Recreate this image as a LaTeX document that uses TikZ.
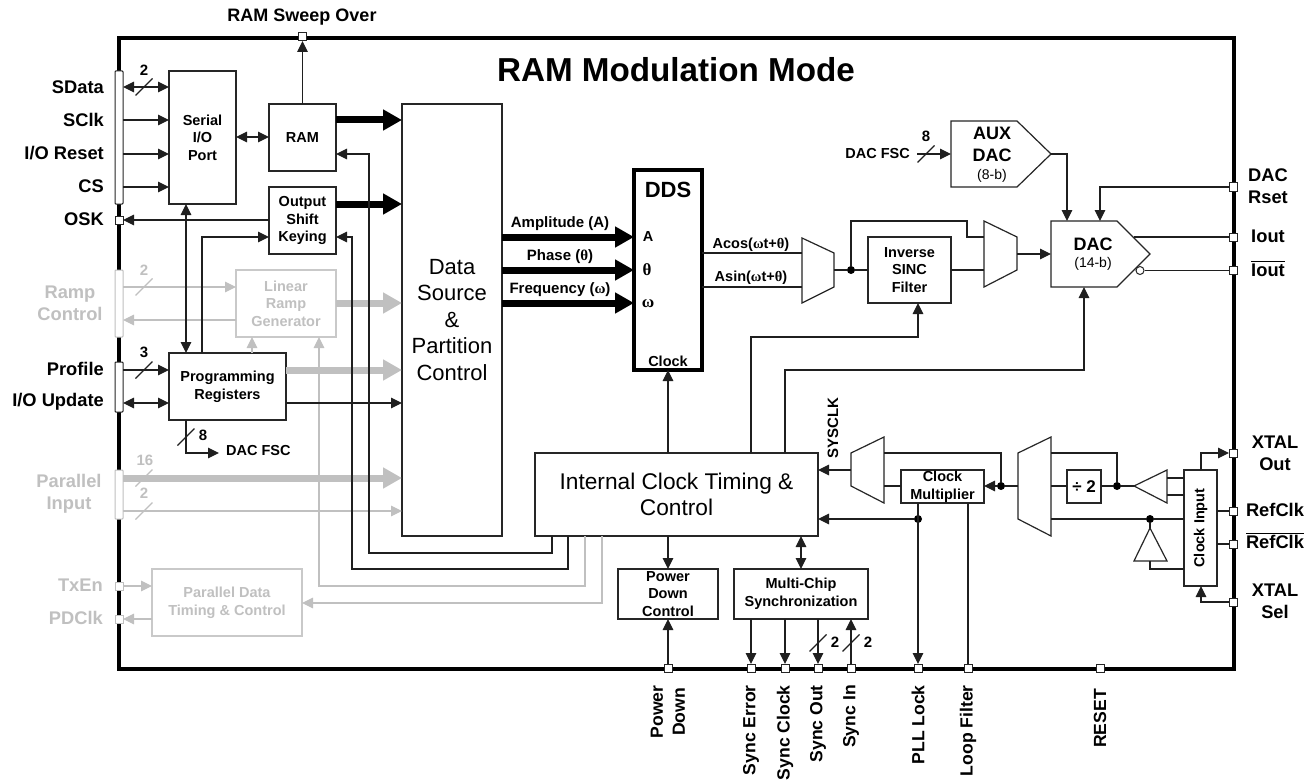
\documentclass[tikz,border=0pt]{standalone}
\usepackage{fontspec}
\setmainfont{Liberation Sans}
\newfontfamily\gr{Liberation Serif}
\usetikzlibrary{arrows.meta}
\definecolor{lg}{HTML}{C0C0C0}
\newcommand\ovl[1]{\leavevmode\vbox{\hrule height 0.9pt\kern 1.5pt\hbox{#1}}}
\newcommand\fs[2]{\fontsize{#1}{#2}\selectfont}
\tikzset{
  x=1pt,y=-1pt,
  >={Triangle[length=11pt,width=10.5pt]},
  thinl/.style={line width=1.2pt,black!88},
  glin/.style={line width=1.2pt,lg},
  thick black/.style={line width=7pt,-{Triangle[length=19pt,width=20pt]},black},
  thick gray/.style={line width=7pt,-{Triangle[length=19pt,width=20pt]},lg},
  box/.style={draw=black!85,fill=white,line width=1.2pt,inner sep=0pt,outer sep=0pt,align=center},
  gbox/.style={box,draw=lg!85,text=lg},
  lbl/.style={font=\bfseries\fs{14.5}{17.6},inner sep=0pt,align=center},
  pinl/.style={font=\bfseries\fs{18.3}{22},inner sep=0pt,align=center},
  glbl/.style={pinl,text=lg},
  vlbl/.style={font=\bfseries\fs{17.6}{22},inner sep=0pt,rotate=90,anchor=east,align=center},
  pinb/.style={draw=black!85,fill=white,line width=1pt,minimum size=8pt,inner sep=0pt,outer sep=0pt},
  gpin/.style={pinb,draw=lg},
  bar/.style={draw=black!85,fill=white,line width=1pt,inner sep=0pt,outer sep=0pt,rounded corners=0.8pt},
  gbar/.style={bar,draw=lg},
  dotn/.style={circle,fill=black,minimum size=8pt,inner sep=0pt,outer sep=0pt},
  blk/.style={draw=black!85,fill=white,line width=1.2pt},
  cnt/.style={font=\bfseries\fs{15}{17},inner sep=0pt},
  gcnt/.style={cnt,text=lg},
}
\newcommand\bx[7]{\node[#6,minimum width={(#4-(#2))*1pt},minimum height={(#5-(#3))*1pt}] (#1) at ({(#2+#4)/2},{(#3+#5)/2}) {#7};}
\newcommand\buscut[3][thinl]{\draw[#1] ({#2-8.5},{#3+8.5}) -- ({#2+8.5},{#3-8.5});}
\begin{document}
\begin{tikzpicture}
\useasboundingbox (0,0) rectangle (1315,781);
\fill[white] (0,0) rectangle (1315,781);
% chip outline
\draw[line width=4pt,line join=miter,black] (119,38) rectangle (1233.5,668.5);
\node[font=\bfseries\fs{33.2}{36},inner sep=0pt] (title) at (676,70) {RAM Modulation Mode};

% side bars and pins
\bx{sbar}{115}{71}{123}{204}{bar}{}
\bx{rbar}{115}{270}{123}{337}{gbar}{}
\bx{pbar}{115}{362}{123}{412}{bar}{}
\bx{ibar}{115}{470}{123}{519}{gbar}{}
\node[pinb] (pOSK) at (119,220) {};
\node[gpin] (pTx) at (119,586) {};
\node[gpin] (pPD) at (119,619) {};
\node[pinb] (pSweep) at (302.5,37) {};
\node[pinb] (pRset) at (1233,187) {};
\node[pinb] (pIout) at (1233,237) {};
\node[pinb] (pIoutb) at (1233,270.5) {};
\node[pinb] (pXout) at (1233,453) {};
\node[pinb] (pRef) at (1233,511) {};
\node[pinb] (pRefb) at (1233,544) {};
\node[pinb] (pXsel) at (1233,602) {};
\node[pinb] (pPwr) at (668,668) {};
\node[pinb] (pSE) at (751,668) {};
\node[pinb] (pSC) at (785,668) {};
\node[pinb] (pSO) at (818,668) {};
\node[pinb] (pSI) at (851,668) {};
\node[pinb] (pPLL) at (918,668) {};
\node[pinb] (pLF) at (968,668) {};
\node[pinb] (pRst) at (1100,668) {};

% boxes
\bx{serial}{169}{71}{236}{204}{box,lbl}{Serial\\I/O\\Port}
\bx{ram}{269}{104}{336}{171}{box,lbl}{RAM}
\bx{osk}{269}{187}{336}{254}{box,lbl}{Output\\Shift\\Keying}
\bx{ramp}{236}{270}{336}{337}{gbox,lbl}{Linear\\Ramp\\Generator}
\bx{prog}{169}{353}{286}{420}{box,lbl}{Programming\\Registers}
\bx{ptim}{152}{569}{302}{636}{gbox,lbl}{Parallel Data\\Timing \& Control}
\bx{data}{402}{104}{502}{536}{box,font=\fs{22}{26.5}}{Data\\Source\\\&\\Partition\\Control}
\bx{dds}{634}{170}{702}{370}{box,line width=4pt,draw=black}{}
\bx{clk}{535}{453}{818}{536}{box,font=\fs{22.7}{26.5}}{Internal Clock Timing \&\\Control}
\bx{pdc}{618}{569}{718}{619}{box,lbl}{Power\\Down\\Control}
\bx{mcs}{734}{569}{868}{619}{box,lbl}{Multi-Chip\\Synchronization}
\bx{sinc}{868}{237}{951}{303}{box,lbl}{Inverse\\SINC\\Filter}
\bx{cmul}{901}{470}{984}{503}{box,lbl}{Clock\\Multiplier}
\bx{div}{1067}{470}{1101}{503}{box,font=\bfseries\fs{17}{20}}{÷ 2}
\bx{cin}{1184}{470}{1217}{586}{box}{\rotatebox{90}{\bfseries\fs{14.5}{17}Clock Input}}

% DDS inner text
\node[font=\bfseries\fs{22}{24},inner sep=0pt] (tdds) at (668,190) {DDS};
\node[lbl] (tA) at (648,237) {A};
\node[lbl,font=\bfseries\gr\fs{17}{20}] (tT) at (647,270) {θ};
\node[lbl,font=\bfseries\gr\fs{17}{20}] (tW) at (648,304) {ω};
\node[lbl] (tCk) at (668,361) {Clock};

% pentagons, muxes, buffers
\draw[blk] (951,121) -- (1017,121) -- (1051,154) -- (1017,187) -- (951,187) -- cycle;
\draw[blk] (1051,221) -- (1117,221) -- (1150,254) -- (1117,287) -- (1051,287) -- cycle;
\node[inner sep=0pt,align=center,font=\bfseries\fs{18}{22}] (taux) at (992,144) {AUX\\DAC};
\node[inner sep=0pt,font=\fs{14}{16}] (taux2) at (992,176) {(8-b)};
\node[inner sep=0pt,font=\bfseries\fs{18}{22}] (tdac) at (1093,244) {DAC};
\node[inner sep=0pt,font=\fs{14}{16}] (tdac2) at (1093,264) {(14-b)};
\draw[blk] (802,238) -- (834,253) -- (834,287) -- (802,303) -- cycle;
\draw[blk] (984,221) -- (1017,237) -- (1017,270) -- (984,287) -- cycle;
\draw[blk] (884,437) -- (851,453) -- (851,486) -- (884,503) -- cycle;
\draw[blk] (1051,437) -- (1018,453) -- (1018,519) -- (1051,536) -- cycle;
\draw[blk] (1134,486) -- (1167,470) -- (1167,503) -- cycle;
\draw[blk] (1150,528) -- (1167,561) -- (1134,561) -- cycle;
\coordinate (m1o) at (834,270);
\coordinate (m1a) at (802,253);
\coordinate (m1b) at (802,287);
\coordinate (m2a) at (984,237);
\coordinate (m2b) at (984,270);
\coordinate (m2o) at (1017,254);
\coordinate (m3o) at (851,470);
\coordinate (m3a) at (884,453);
\coordinate (m3b) at (884,486);
\coordinate (m4o) at (1018,486);
\coordinate (m4a) at (1051,453);
\coordinate (m4i) at (1051,486);
\coordinate (m4b) at (1051,519);
\coordinate (bufo) at (1134,486);
\coordinate (buf1) at (1167,478);
\coordinate (buf2) at (1167,495);
\coordinate (invt) at (1150,528);
\coordinate (invb) at (1150,561);
\coordinate (auxo) at (1051,154);
\coordinate (dacin) at (1051,254);
\coordinate (dacio) at (1134,237);
\node[draw=black!85,fill=white,circle,line width=1pt,minimum size=8pt,inner sep=0pt] (bub) at (1140,270.5) {};
\node[dotn] (d1) at (851,270) {};
\node[dotn] (d2) at (1001,486) {};
\node[dotn] (d3) at (1117,486) {};
\node[dotn] (d4) at (1150,519) {};
\node[dotn] (d5) at (918,519) {};

% gray connectors (below the black ones)
\draw[thick gray] (ibar.east |- 0,478) -- (data.west |- 0,478);
\draw[thick gray] (ramp.east |- 0,303) -- (data.west |- 0,303);
\draw[thick gray] (prog.east |- 0,370) -- (data.west |- 0,370);
\draw[glin,->] (ibar.east |- 0,511) -- (data.west |- 0,511);
\draw[glin,->] (rbar.east |- 0,287) -- (ramp.west |- 0,287);
\draw[glin,->] (ramp.west |- 0,320) -- (rbar.east |- 0,320);
\draw[glin,->] (prog.north -| 252,0) -- (ramp.south -| 252,0);
\draw[glin,->] (clk.south -| 585,0) |- (319,586) -- (ramp.south -| 319,0);
\draw[glin,->] (clk.south -| 602,0) |- (ptim.east |- 0,603);
\draw[glin,->] (pTx.east) -- (ptim.west |- pTx);
\draw[glin,->] (ptim.west |- pPD) -- (pPD.east);
\buscut[glin]{144}{287}
\buscut[glin]{144}{478}
\buscut[glin]{144}{511}

% black connectors
\draw[thick black] (ram.east |- 0,120) -- (data.west |- 0,120);
\draw[thick black] (osk.east |- 0,204) -- (data.west |- 0,204);
\draw[thick black] (data.east |- 0,237) -- (dds.west |- 0,237);
\draw[thick black] (data.east |- 0,270) -- (dds.west |- 0,270);
\draw[thick black] (data.east |- 0,303) -- (dds.west |- 0,303);
\draw[thinl,<->] (sbar.east |- 0,87) -- (serial.west |- 0,87);
\draw[thinl,->] (sbar.east |- 0,120) -- (serial.west |- 0,120);
\draw[thinl,->] (sbar.east |- 0,154) -- (serial.west |- 0,154);
\draw[thinl,->] (sbar.east |- 0,187) -- (serial.west |- 0,187);
\draw[thinl,->] (osk.west |- pOSK) -- (pOSK.east);
\draw[thinl,<->] (serial.east |- 0,137) -- (ram.west |- 0,137);
\draw[thinl,->] (ram.north) -- (ram.north |- pSweep.south);
\draw[thinl,->] (clk.south -| 552,0) |- (369,553) |- (ram.east |- 0,154);
\draw[thinl,->] (clk.south -| 568,0) |- (352,569) |- (osk.east |- 0,237);
\draw[thinl,<->] (serial.south -| 186,0) -- (prog.north -| 186,0);
\draw[thinl,->] (prog.north -| 202,0) |- (osk.west |- 0,237);
\draw[thinl,->] (pbar.east |- 0,370) -- (prog.west |- 0,370);
\draw[thinl,<->] (pbar.east |- 0,403) -- (prog.west |- 0,403);
\draw[thinl,->] (prog.east |- 0,403) -- (data.west |- 0,403);
\coordinate (fsc) at (219,453);
\draw[thinl,->] (prog.south -| 186,0) |- (fsc);
\node[lbl,anchor=west] (tfsc) at (226,451) {DAC FSC};
\node[lbl,anchor=east] (tfsc2) at (910,154) {DAC FSC};
\coordinate (fsc2) at (917,154);
\draw[thinl,->] (fsc2) -- (951,154);
\draw[thinl] (dds.east |- m1a) -- (m1a);
\draw[thinl] (dds.east |- m1b) -- (m1b);
\draw[thinl] (m1o) -- (d1) -- (sinc.west |- d1);
\draw[thinl] (d1) |- (967,221) |- (m2a);
\draw[thinl] (sinc.east |- m2b) -- (m2b);
\draw[thinl,->] (m2o) -- (dacin);
\draw[thinl,->] (auxo) -| (1067,221);
\draw[thinl,->] (pRset.west) -| (1100,221);
\draw[thinl] (dacio) -- (pIout.west);
\draw[thinl] (bub.east) -- (pIoutb.west);
\draw[thinl,->] (clk.north -| 668,0) -- (dds.south -| 668,0);
\draw[thinl,->] (clk.north -| 751,0) |- (918,337) -- (sinc.south -| 918,0);
\draw[thinl,->] (clk.north -| 785,0) |- (1084,370) -- (1084,287);
\draw[thinl,->] (clk.south -| 668,0) -- (pdc.north -| 668,0);
\draw[thinl,<->] (clk.south -| 801,0) -- (mcs.north -| 801,0);
\draw[thinl,->] (pPwr.north) -- (pdc.south -| pPwr);
\draw[thinl,->] (mcs.south -| pSE) -- (pSE.north);
\draw[thinl,->] (mcs.south -| pSC) -- (pSC.north);
\draw[thinl,->] (mcs.south -| pSO) -- (pSO.north);
\draw[thinl,->] (pSI.north) -- (mcs.south -| pSI);
\draw[thinl,->] (m3o) -- (clk.east |- m3o);
\draw[thinl] (m3b) -- (cmul.west |- m3b);
\draw[thinl] (m3a) -| (d2);
\draw[thinl,->] (m4o) -- (d2) -- (cmul.east |- d2);
\draw[thinl] (m4i) -- (div.west |- m4i);
\draw[thinl] (m4a) -| (d3);
\draw[thinl] (div.east |- d3) -- (d3) -- (bufo);
\draw[thinl] (buf1) -- (cin.west |- buf1);
\draw[thinl] (buf2) -- (cin.west |- buf2);
\draw[thinl,->] (d5) -- (clk.east |- d5);
\draw[thinl,->] (cmul.south -| d5) -- (pPLL.north);
\draw[thinl] (cmul.south -| pLF) -- (pLF.north);
\draw[thinl] (m4b) -- (d4) -- (cin.west |- d4);
\draw[thinl] (d4) -- (invt);
\draw[thinl] (invb) |- (cin.west |- 0,569);
\draw[thinl,->] (cin.north -| 1201,0) |- (pXout.west);
\draw[thinl] (cin.east |- pRef) -- (pRef.west);
\draw[thinl] (cin.east |- pRefb) -- (pRefb.west);
\draw[thinl,->] (pXsel.west) -| (cin.south -| 1201,0);
\buscut{144}{87}
\buscut{144}{370}
\buscut{186}{437}
\buscut{926}{154}
\buscut{818}{643}
\buscut{851}{643}

% bus counts
\node[cnt] (n1) at (144,70) {2};
\node[gcnt] (n2) at (144,270) {2};
\node[cnt] (n3) at (144,352) {3};
\node[cnt] (n4) at (203,435) {8};
\node[gcnt] (n5) at (145,460) {16};
\node[gcnt] (n6) at (144,493) {2};
\node[cnt] (n7) at (926,136) {8};
\node[cnt] (n8) at (835,642) {2};
\node[cnt] (n9) at (868,642) {2};

% signal labels on thick lines
\node[lbl,font=\bfseries\fs{15}{17}] (s1) at (560,224) {Amplitude (A)};
\node[lbl,font=\bfseries\fs{15}{17}] (s2) at (560,257) {Phase ({\gr θ})};
\node[lbl,font=\bfseries\fs{15}{17}] (s3) at (560,290) {Frequency ({\gr ω})};
\node[lbl] (s4) at (751,245) {Acos({\gr ω}t+{\gr θ})};
\node[lbl] (s5) at (751,278) {Asin({\gr ω}t+{\gr θ})};
\node[lbl,rotate=90,font=\bfseries\fs{15}{17}] (s6) at (833,428) {SYSCLK};

% pin labels
\node[pinl,font=\bfseries\fs{18}{22}] (tsweep) at (302,17) {RAM Sweep Over};
\node[pinl,anchor=east] (l1) at (104,87) {SData};
\node[pinl,anchor=east] (l2) at (104,120) {SClk};
\node[pinl,anchor=east] (l3) at (104,153) {I/O Reset};
\node[pinl,anchor=east] (l4) at (104,186) {CS};
\node[pinl,anchor=east] (l5) at (104,219) {OSK};
\node[glbl] (l6) at (70,303) {Ramp\\Control};
\node[pinl,anchor=east] (l7) at (104,369) {Profile};
\node[pinl,anchor=east] (l8) at (104,402) {I/O Update};
\node[glbl] (l9) at (69,494) {Parallel\\Input};
\node[glbl,anchor=east] (l10) at (103,585) {TxEn};
\node[glbl,anchor=east] (l11) at (103,618) {PDClk};
\node[pinl] (r1) at (1268,186) {DAC\\Rset};
\node[pinl] (r2) at (1268,236) {Iout};
\node[pinl] (r3) at (1268,269) {\ovl{Iout}};
\node[pinl] (r4) at (1275,453) {XTAL\\Out};
\node[pinl] (r5) at (1275,510) {RefClk};
\node[pinl] (r6) at (1275,541) {\ovl{RefClk}};
\node[pinl] (r7) at (1275,601) {XTAL\\Sel};
\node[vlbl,anchor=center] (b1) at (668,712) {Power\\Down};
\node[vlbl] (b2) at (751,685) {Sync Error};
\node[vlbl] (b3) at (785,685) {Sync Clock};
\node[vlbl] (b4) at (818,685) {Sync Out};
\node[vlbl] (b5) at (851,685) {Sync In};
\node[vlbl] (b6) at (918,685) {PLL Lock};
\node[vlbl] (b7) at (968,685) {Loop Filter};
\node[vlbl] (b8) at (1100,689) {RESET};
\end{tikzpicture}
\end{document}
